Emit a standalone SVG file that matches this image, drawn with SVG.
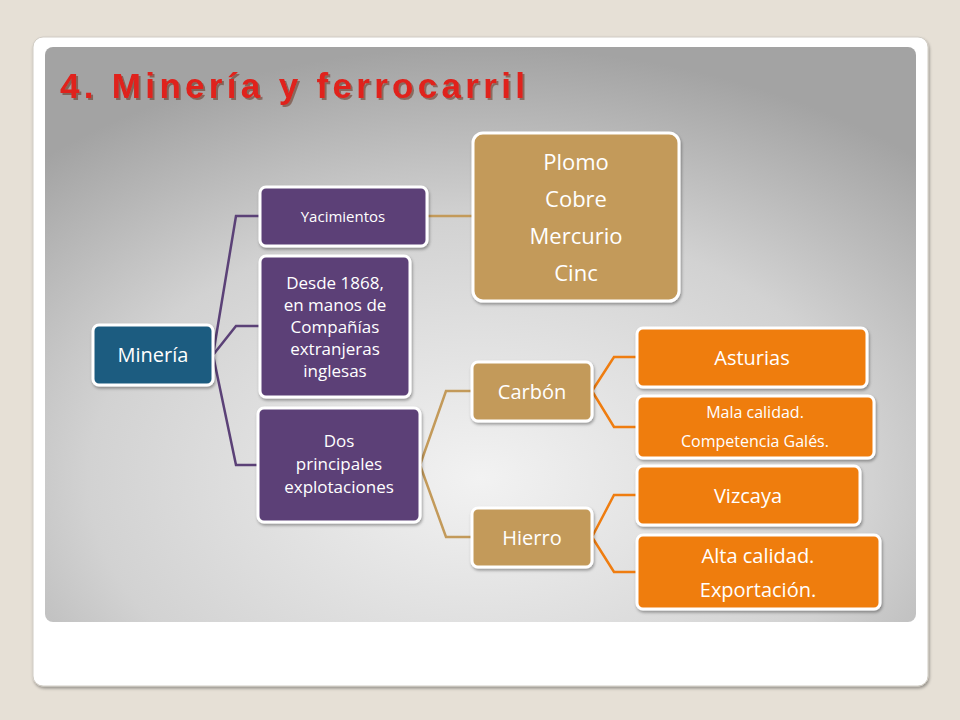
<svg xmlns="http://www.w3.org/2000/svg" width="960" height="720" viewBox="0 0 960 720">
<defs>
<radialGradient id="bg" cx="0.5" cy="0.75" r="0.75">
<stop offset="0" stop-color="#f2f2f2"/><stop offset="0.6" stop-color="#d2d2d2"/><stop offset="1" stop-color="#a3a3a3"/>
</radialGradient>
<filter id="sh" x="-10%" y="-10%" width="130%" height="130%"><feDropShadow dx="1" dy="2" stdDeviation="1.5" flood-opacity="0.35"/></filter>
<filter id="tsh" x="-5%" y="-20%" width="110%" height="150%"><feDropShadow dx="2" dy="2" stdDeviation="0.5" flood-color="#5a1510" flood-opacity="0.45"/></filter>
</defs>
<style>
.n rect{stroke:#fff;stroke-width:3;filter:url(#sh)}
.n text{font-family:"Open Sans","Liberation Sans",sans-serif;fill:#fff;text-anchor:middle}
.p rect{fill:#5b4177}
.t rect{fill:#c39a5a}
.o rect{fill:#ef7d10}
.c path{fill:none;stroke-width:2.5}
</style>
<rect width="960" height="720" fill="#e6e0d6"/>
<rect x="33" y="37" width="895" height="649" rx="10" fill="#fff" stroke="#d0ccc4" filter="url(#sh)"/>
<rect x="45" y="47" width="871" height="575" rx="8" fill="url(#bg)"/>
<text x="60" y="98" font-family="Liberation Sans,sans-serif" font-size="35" font-weight="bold" fill="#e0201a" textLength="465" lengthAdjust="spacing" filter="url(#tsh)">4. Minería y ferrocarril</text>
<g class="c">
<path stroke="#5b4177" d="M213,355 L236,216 L260,216 M213,355 L236,326 L260,326 M213,355 L236,465 L258,465"/>
<path stroke="#c39a5a" d="M427,216 L473,216 M420,465 L446,391 L472,391 M420,465 L446,537 L472,537"/>
<path stroke="#ef7d10" d="M592,391 L614,357 L637,357 M592,391 L614,427 L637,427 M592,537 L614,495 L637,495 M592,537 L614,572 L637,572"/>
</g>
<g id="mineria" class="n"><rect x="93" y="325" width="120" height="60" rx="6" fill="#1f5c80"/><text x="153" y="362" font-size="20">Minería</text></g>
<g id="yacimientos" class="n p"><rect x="260" y="187" width="167" height="59" rx="6"/><text x="343" y="222" font-size="15">Yacimientos</text></g>
<g id="desde" class="n p"><rect x="260" y="256" width="150" height="141" rx="6"/><text font-size="17"><tspan x="335" y="289">Desde 1868,</tspan><tspan x="335" y="311">en manos de</tspan><tspan x="335" y="333">Compañías</tspan><tspan x="335" y="355">extranjeras</tspan><tspan x="335" y="377">inglesas</tspan></text></g>
<g id="dos" class="n p"><rect x="258" y="408" width="162" height="114" rx="6"/><text font-size="17"><tspan x="339" y="447">Dos</tspan><tspan x="339" y="470">principales</tspan><tspan x="339" y="493">explotaciones</tspan></text></g>
<g id="metales" class="n t"><rect x="473" y="133" width="206" height="168" rx="10"/><text font-size="22"><tspan x="576" y="170">Plomo</tspan><tspan x="576" y="207">Cobre</tspan><tspan x="576" y="244">Mercurio</tspan><tspan x="576" y="281">Cinc</tspan></text></g>
<g id="carbon" class="n t"><rect x="472" y="362" width="120" height="59" rx="6"/><text x="532" y="399" font-size="20">Carbón</text></g>
<g id="hierro" class="n t"><rect x="472" y="508" width="120" height="59" rx="6"/><text x="532" y="545" font-size="20">Hierro</text></g>
<g id="asturias" class="n o"><rect x="637" y="328" width="230" height="59" rx="6"/><text x="752" y="365" font-size="20">Asturias</text></g>
<g id="mala" class="n o"><rect x="637" y="396" width="237" height="62" rx="6"/><text font-size="16"><tspan x="755" y="418">Mala calidad.</tspan><tspan x="755" y="447">Competencia Galés.</tspan></text></g>
<g id="vizcaya" class="n o"><rect x="637" y="466" width="223" height="59" rx="6"/><text x="748" y="503" font-size="20">Vizcaya</text></g>
<g id="alta" class="n o"><rect x="637" y="535" width="243" height="74" rx="6"/><text font-size="20"><tspan x="758" y="563">Alta calidad.</tspan><tspan x="758" y="597">Exportación.</tspan></text></g>
</svg>
